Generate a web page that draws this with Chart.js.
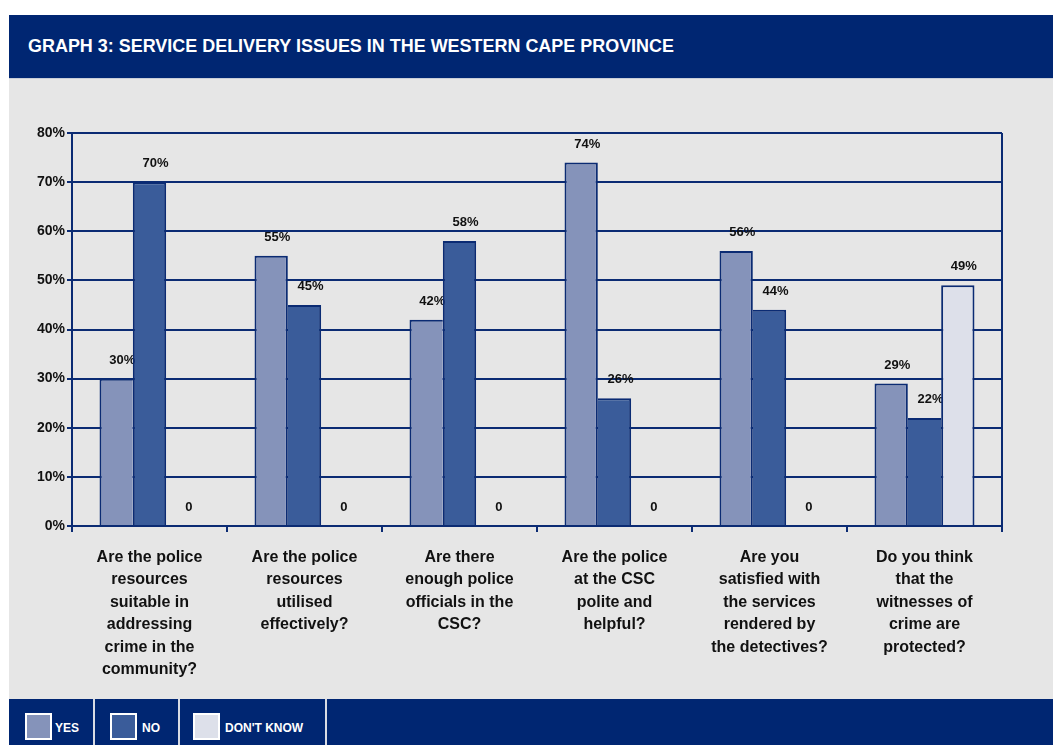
<!DOCTYPE html>
<html>
<head>
<meta charset="utf-8">
<script src="https://cdn.jsdelivr.net/npm/chart.js@4.4.1/dist/chart.umd.min.js"></script>
<style>
  html, body { margin: 0; padding: 0; width: 1053px; height: 745px; background: #ffffff; overflow: hidden; }
  #titlebar { position: absolute; left: 9px; top: 15px; width: 1044px; height: 64px; background: #002672; border-bottom: 1px solid #c9cdd8; box-sizing: border-box; }
  #titlebar span { position: absolute; left: 19px; top: 21px; color: #ffffff; font: bold 18px "Liberation Sans", Arial, sans-serif; white-space: nowrap; transform-origin: left center; }
  #panel { position: absolute; left: 9px; top: 79px; width: 1044px; height: 620px; background: #e6e6e6; }
  #chartbox { position: absolute; left: 9px; top: 80px; width: 1044px; height: 619px; }
  #legend { position: absolute; left: 9px; top: 699px; width: 1044px; height: 46px; background: #002672; }
  .sep { position: absolute; top: 0; width: 2px; height: 46px; background: #d8dbe4; }
  .key { position: absolute; top: 14px; width: 23px; height: 23px; border: 2px solid #ffffff; }
  .lbl { position: absolute; top: 22px; color: #ffffff; font: bold 12px "Liberation Sans", Arial, sans-serif; white-space: nowrap; }
</style>
</head>
<body>
<div id="titlebar"><span id="title">GRAPH 3: SERVICE DELIVERY ISSUES IN THE WESTERN CAPE PROVINCE</span></div>
<div id="panel"></div>
<div id="chartbox"><canvas id="chart" width="1044" height="619"></canvas></div>
<div id="legend"></div>
<script>
// Survey questions (category axis), one array of lines per question
const questions = [
  ["Are the police", "resources", "suitable in", "addressing", "crime in the", "community?"],
  ["Are the police", "resources", "utilised", "effectively?"],
  ["Are there", "enough police", "officials in the", "CSC?"],
  ["Are the police", "at the CSC", "polite and", "helpful?"],
  ["Are you", "satisfied with", "the services", "rendered by", "the detectives?"],
  ["Do you think", "that the", "witnesses of", "crime are", "protected?"]
];

// Response shares in percent
const yesValues      = [30, 55, 42, 74, 56, 29];
const noValues       = [70, 45, 58, 26, 44, 22];
const dontKnowValues = [0, 0, 0, 0, 0, 49];

const seriesNames = ["YES", "NO", "DON'T KNOW"];
const yTicks = [0, 10, 20, 30, 40, 50, 60, 70, 80];

const NAVY = "#0b2b73";
const COLORS = ["#8593ba", "#3a5c9a", "#dde0ea"];
const FONT = "'Liberation Sans', Arial, sans-serif";

// Outline only the outer edges of each group: a side border is drawn
// where the bar stands taller than its neighbour on that side.
const allSeries = [yesValues, noValues, dontKnowValues];
function borderFor(si) {
  return (ctx) => {
    const i = ctx.dataIndex;
    const v = allSeries[si][i];
    const left = si === 0 ? -1 : allSeries[si - 1][i];
    const right = si === allSeries.length - 1 ? -1 : allSeries[si + 1][i];
    if (v === 0) return 0;
    return { top: 2, bottom: 0, left: v > left ? 2 : 0, right: v > right ? 2 : 0 };
  };
}

const datasets = allSeries.map((vals, si) => ({
  label: seriesNames[si],
  data: vals,
  backgroundColor: COLORS[si],
  borderColor: NAVY,
  borderWidth: borderFor(si),
  borderSkipped: false,
  categoryPercentage: 0.645,
  barPercentage: 1.0
}));

// Value labels sit above each bar; painted before the bars so that a
// neighbouring taller bar can overlap them.
const valueLabels = {
  id: "valueLabels",
  beforeDatasetsDraw(chart) {
    const ctx = chart.ctx;
    const area = chart.chartArea;
    ctx.save();
    // right frame edge of the plot
    ctx.strokeStyle = NAVY;
    ctx.lineWidth = 2;
    ctx.beginPath();
    ctx.moveTo(area.right, area.top);
    ctx.lineTo(area.right, area.bottom + 6);
    ctx.stroke();
    ctx.font = "bold 13px " + FONT;
    ctx.fillStyle = "#111111";
    ctx.textAlign = "center";
    ctx.textBaseline = "middle";
    chart.data.datasets.forEach((ds, di) => {
      const meta = chart.getDatasetMeta(di);
      meta.data.forEach((bar, i) => {
        const v = ds.data[i];
        const text = v === 0 ? "0" : v + "%";
        ctx.fillText(text, bar.x + 6, bar.y - 18.5);
      });
    });
    ctx.restore();
  }
};

new Chart(document.getElementById("chart"), {
  type: "bar",
  data: { labels: questions, datasets },
  options: {
    responsive: false,
    animation: false,
    layout: { padding: { top: 53, right: 51, left: 0, bottom: 0 } },
    plugins: { legend: { display: false }, tooltip: { enabled: false } },
    scales: {
      x: {
        grid: { offset: true, drawOnChartArea: false, drawTicks: true, tickLength: 6, color: NAVY, lineWidth: 2 },
        border: { display: true, color: NAVY, width: 2, z: 1 },
        ticks: {
          autoSkip: false, maxRotation: 0, minRotation: 0,
          color: "#111111", padding: 14,
          font: { family: FONT, size: 16, weight: "bold", lineHeight: 1.41 }
        },
        afterFit(scale) { scale.height = 173; }
      },
      y: {
        min: 0, max: 80,
        afterBuildTicks(scale) { scale.ticks = yTicks.map(v => ({ value: v })); },
        ticks: {
          color: "#111111", padding: 2,
          font: { family: FONT, size: 14, weight: "bold" },
          callback: (v) => v + "%"
        },
        grid: { color: NAVY, lineWidth: 2, tickLength: 5 },
        border: { display: true, color: NAVY, width: 2 },
        afterFit(scale) { scale.width = 63; }
      }
    }
  },
  plugins: [valueLabels]
});

// Legend strip along the bottom
const legend = document.getElementById("legend");
const keyX = [16, 101, 184];
const textX = [46, 133, 216];
const sepX = [84, 169, 316];
sepX.forEach(x => {
  const d = document.createElement("div");
  d.className = "sep"; d.style.left = x + "px";
  legend.appendChild(d);
});
seriesNames.forEach((name, i) => {
  const k = document.createElement("div");
  k.className = "key"; k.style.left = keyX[i] + "px"; k.style.background = COLORS[i];
  legend.appendChild(k);
  const t = document.createElement("div");
  t.className = "lbl"; t.style.left = textX[i] + "px"; t.textContent = name;
  legend.appendChild(t);
});

// Fit the heading to its line length
const title = document.getElementById("title");
const w = title.getBoundingClientRect().width;
title.style.transform = "scaleX(" + (646 / w) + ")";
</script>
</body>
</html>
